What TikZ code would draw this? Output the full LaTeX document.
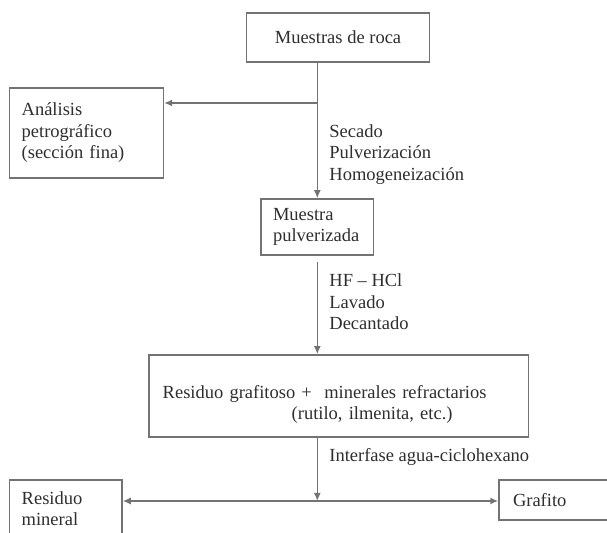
\documentclass[tikz,border=0pt]{standalone}
\usepackage{fontspec}
\setmainfont{Liberation Serif}
\usetikzlibrary{positioning, arrows.meta, calc}

\definecolor{linegray}{gray}{0.45}
\definecolor{textgray}{gray}{0.18}

\begin{document}
\begin{tikzpicture}[
    x=0.5pt, y=-0.5pt,
    every node/.style={font=\fontsize{9.25}{10.75}\selectfont, text=textgray},
    box/.style={draw=linegray, line width=0.75pt, inner xsep=6pt, inner ysep=0pt, align=left},
    flow/.style={draw=linegray, line width=0.75pt, -{Latex[length=4pt, width=3.5pt]}},
    steplabel/.style={anchor=west, align=left, inner sep=0pt}
]
\useasboundingbox (0,0) rectangle (607,533);

% === Boxes ===
\node[box, align=center, minimum width=91.5pt, minimum height=24.5pt] (roca) at (338,37.5) {Muestras de roca};
\node[box, text width=64.85pt, minimum height=45pt] (analisis) at (86.5,133) {Análisis\\petrográfico\\(sección fina)};
\node[box, text width=44.3pt, minimum height=28pt] (pulv) at (317.3,227) {Muestra\\pulverizada};
\node[box, inner xsep=6.8pt, text width=176pt, minimum height=41pt] (resid) at (338.75,396)
    {\rule{0pt}{15pt}Residuo grafitoso +\ \ minerales refractarios\\\hspace*{64.5pt}(rutilo, ilmenita, etc.)};
\node[box, text width=44.15pt, minimum height=28.5pt] (mineral) at (65.85,508.5) {Residuo\\mineral};
\node[box, inner xsep=7pt, text width=62pt, minimum height=20pt] (grafito) at (575,500) {Grafito};

% === Split points ===
\coordinate (split1) at (317.3,103);
\coordinate (split2) at (317.3,501);

% === Connectors ===
\draw[flow] (roca.south -| pulv.north) -- (pulv.north);
\draw[flow] (split1) -- (split1 -| analisis.east);
\draw[flow, shorten <=3pt] (pulv.south) -- (pulv.south |- resid.north);
\draw[flow] (resid.south -| split2) -- (split2);
\draw[flow] (split2) -- (split2 -| mineral.east);
\draw[flow] (split2) -- (split2 -| grafito.west);

% === Step labels ===
\node[steplabel] (secado) at (329,154.5) {Secado\\Pulverización\\Homogeneización};
\node[steplabel] (ataque) at (329,301.7) {HF -- HCl\\Lavado\\Decantado};
\node[steplabel] (interfase) at (329,457) {Interfase agua-ciclohexano};

\end{tikzpicture}
\end{document}
